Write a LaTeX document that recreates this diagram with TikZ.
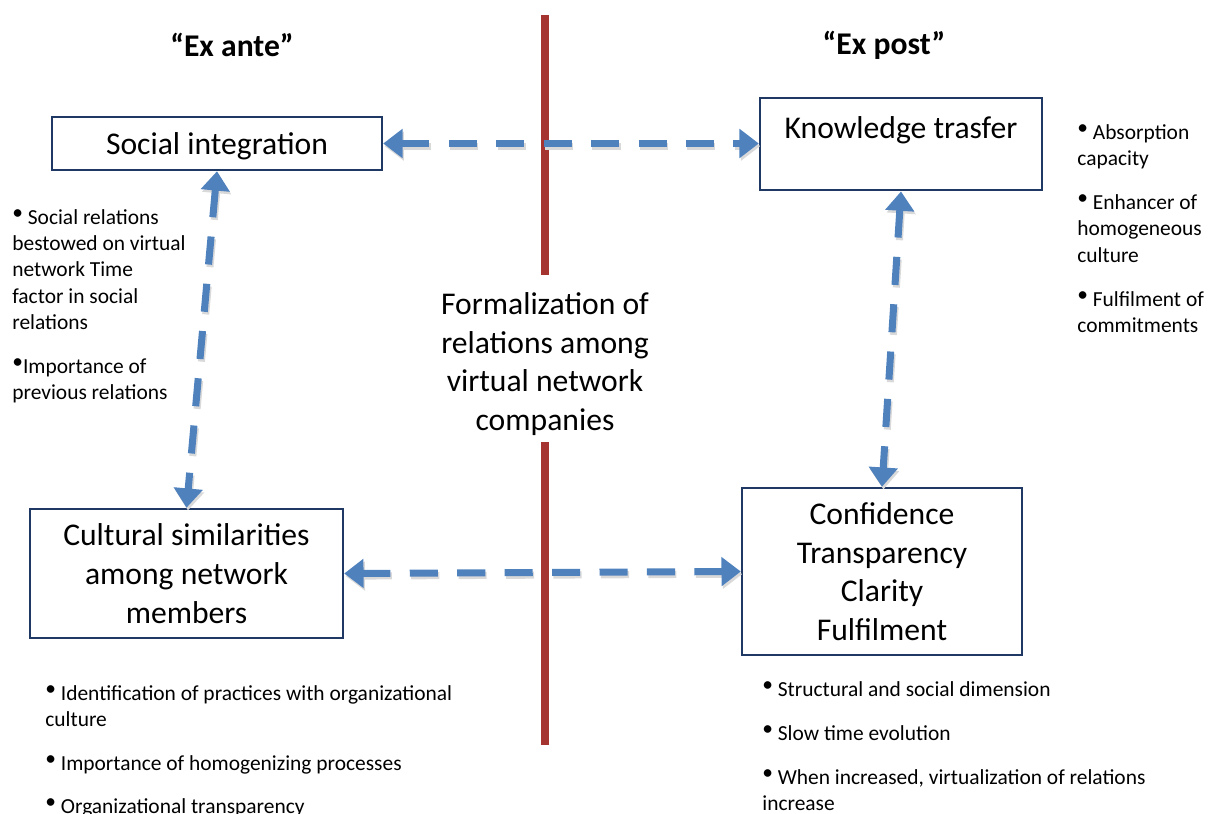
\documentclass[tikz,border=0pt]{standalone}
\usepackage{fontspec}
\setmainfont{Carlito}
\usetikzlibrary{positioning, arrows.meta, calc}
\definecolor{flowb}{RGB}{79,129,189}
\definecolor{boxb}{RGB}{31,56,100}
\definecolor{darkr}{RGB}{165,52,48}
\newcommand{\bul}{\raisebox{0.45ex}{\textbullet}}

\begin{document}
\begin{tikzpicture}[x=0.02cm, y=-0.02cm, >={Triangle[length=11pt,width=16pt]},
    box/.style={draw=boxb, line width=1.4pt, fill=white, align=center,
      font=\fontsize{18}{22}\selectfont},
    head/.style={font=\fontsize{18}{22}\selectfont\bfseries},
    note/.style={anchor=north west, inner sep=0pt, align=left,
      font=\fontsize{12.2}{15}\selectfont},
    divider/.style={draw=darkr, line width=4pt},
    flow/.style={<->, draw=flowb, line width=4pt, dash pattern=on 16pt off 11pt,
      preaction={<->, draw=black!15, line width=4pt, dash pattern=on 16pt off 11pt,
        transform canvas={shift={(0.8pt,-1.5pt)}}}}]
  \useasboundingbox (0,0) rectangle (1216,814);

  % two phases and the line between them
  \node[head] (exante) at (232,45) {“Ex ante”};
  \node[head] (expost) at (884,45) {“Ex post”};
  \node[align=center, font=\fontsize{18}{22}\selectfont] (formal) at (545,364)
    {Formalization of\\relations among\\virtual network\\companies};
  \draw[divider] (545,15) -- (545,275);
  \draw[divider] (545,442) -- (545,745);

  % the four factors
  \node[box, minimum width=6.6cm, minimum height=1.06cm, inner ysep=2pt,
    text height=18pt, text depth=5pt] (social) at (217,143.5) {Social integration};
  \node[box, anchor=north, minimum width=5.64cm, minimum height=1.84cm,
    text height=16.7pt, text depth=23.5pt] (know) at (901,97) {Knowledge trasfer};
  \node[box, minimum width=6.26cm, minimum height=2.58cm] (cultural) at (186.5,573.5)
    {Cultural similarities\\among network\\members};
  \node[box, minimum width=5.6cm, minimum height=3.34cm] (conf) at (882,571.5)
    {Confidence\\Transparency\\Clarity\\Fulfilment};

  \draw[flow] (social.east) -- (social.east -| know.west);
  \draw[flow] (social.south) -- (cultural.north);
  \draw[flow] (know.south) -- (conf.north);
  \draw[flow] (cultural.east) -- (conf.west);

  % remarks next to each factor
  \node[note] (socialnote) at (12,209)
    {\bul\ Social relations\\bestowed on virtual\\network Time\\factor in social\\relations\\[10pt]
     \bul Importance of\\previous relations};
  \node[note] (knownote) at (1077,124)
    {\bul\ Absorption\\capacity\\[10pt]\bul\ Enhancer of\\homogeneous\\culture\\[10pt]
     \bul\ Fulfilment of\\commitments};
  \node[note] (culturalnote) at (45,685)
    {\bul\ Identification of practices with organizational\\culture\\[10pt]
     \bul\ Importance of homogenizing processes\\[9.5pt]
     \bul\ Organizational transparency};
  \node[note] (confnote) at (762,681)
    {\bul\ Structural and social dimension\\[10pt]\bul\ Slow time evolution\\[10pt]
     \bul\ When increased, virtualization of relations\\increase};
\end{tikzpicture}
\end{document}
